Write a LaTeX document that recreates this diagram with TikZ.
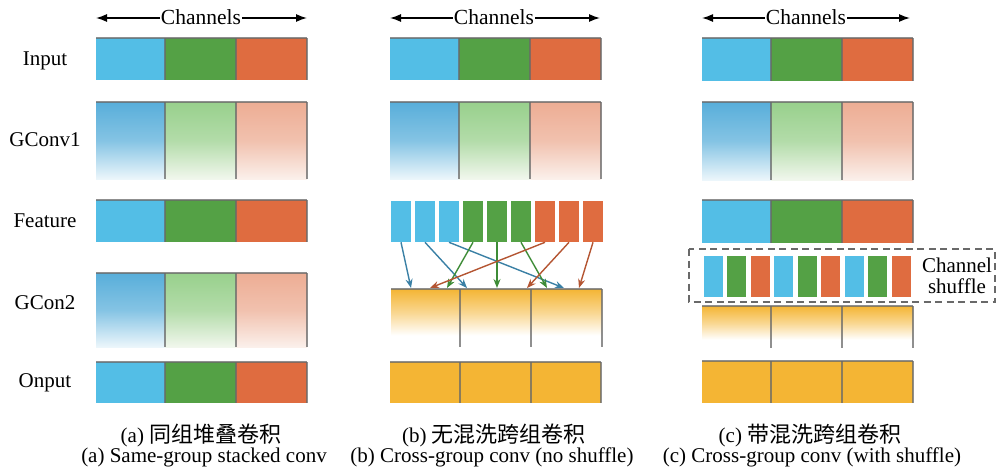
\documentclass[tikz,border=0pt]{standalone}
\usepackage{fontspec}
\setmainfont{Liberation Serif}
\newfontfamily\cjk{Noto Sans CJK SC}
\usetikzlibrary{arrows.meta}
\definecolor{cb}{RGB}{83,190,230}
\definecolor{cg}{RGB}{84,161,69}
\definecolor{co}{RGB}{223,108,64}
\definecolor{cy}{RGB}{244,181,52}
\definecolor{gb1}{RGB}{88,174,218}
\definecolor{gb2}{RGB}{236,246,251}
\definecolor{gg1}{RGB}{152,208,140}
\definecolor{gg2}{RGB}{241,247,237}
\definecolor{go1}{RGB}{237,173,148}
\definecolor{go2}{RGB}{251,240,235}
\definecolor{ab}{RGB}{58,128,165}
\definecolor{ag}{RGB}{62,140,55}
\definecolor{ao}{RGB}{180,85,50}
\definecolor{edgec}{RGB}{105,105,105}
\tikzset{
  edgeline/.style={draw=edgec,draw opacity=.75,line width=1.6pt},
  rowlabel/.style={font=\fontsize{21}{24}\selectfont,inner sep=0pt},
  chtext/.style={font=\fontsize{21.5}{24}\selectfont,inner sep=1pt},
  chline/.style={line width=1.4pt,-{Latex[length=11pt,width=8pt]}},
  captext/.style={font=\fontsize{21}{24}\selectfont,inner sep=0pt},
  fbar/.style={minimum width=21pt,minimum height=42pt,inner sep=0pt,draw=white,line width=.6pt},
  sbar/.style={minimum width=20pt,minimum height=42pt,inner sep=0pt,draw=white,line width=.6pt},
  conn/.style={line width=1.4pt,-{Stealth[length=9pt,width=7pt]}},
}
\newcommand{\flatrow}[7]{% x0 x1 x2 x3 y0 y1 style: 1=colours 2=yellow
  \ifnum#7=1
    \fill[cb] (#1,#5) rectangle (#2,#6);
    \fill[cg] (#2,#5) rectangle (#3,#6);
    \fill[co] (#3,#5) rectangle (#4,#6);
  \else
    \fill[cy] (#1,#5) rectangle (#4,#6);
  \fi
  \draw[edgeline] (#1,#5) -- (#4,#5);
  \draw[edgeline] (#2,#5) -- (#2,#6) (#3,#5) -- (#3,#6) (#4,#5) -- (#4,#6);
}
\newcommand{\graderow}[6]{% x0 x1 x2 x3 y0 y1
  \shade[top color=gb1,bottom color=gb2,middle color=gb1!70!gb2] (#1,#5) rectangle (#2,#6);
  \shade[top color=gg1,bottom color=gg2,middle color=gg1!70!gg2] (#2,#5) rectangle (#3,#6);
  \shade[top color=go1,bottom color=go2,middle color=go1!70!go2] (#3,#5) rectangle (#4,#6);
  \draw[edgeline] (#1,#5) -- (#4,#5);
  \draw[edgeline] (#2,#5) -- (#2,#6) (#3,#5) -- (#3,#6) (#4,#5) -- (#4,#6);
}
\newcommand{\yelrow}[6]{% x0 x1 x2 x3 y0 y1
  \shade[top color=cy,bottom color=white,middle color=cy!55!white] (#1,#5) rectangle (#4,{#5+0.8*(#6-#5)});
  \draw[edgeline] (#1,#5) -- (#4,#5);
  \draw[edgeline] (#2,#5) -- (#2,#6) (#3,#5) -- (#3,#6) (#4,#5) -- (#4,#6);
}
\begin{document}
\begin{tikzpicture}[x=1pt,y=-1pt]
\useasboundingbox (0,0) rectangle (997,469);

% row labels
\node[rowlabel] (lin) at (45,61) {Input};
\node[rowlabel] (lg1) at (45,140) {GConv1};
\node[rowlabel] (lft) at (45,221) {Feature};
\node[rowlabel] (lg2) at (45,303) {GCon2};
\node[rowlabel] (lout) at (45,383) {Onput};

% Channels headers
\node[chtext] (cha) at (201,17) {Channels};
\node[chtext] (chb) at (494,17) {Channels};
\node[chtext] (chc) at (806,17) {Channels};
\coordinate (cal) at (96,18); \coordinate (car) at (307,18);
\coordinate (cbl) at (390,18); \coordinate (cbr) at (600,18);
\coordinate (ccl) at (702,18); \coordinate (ccr) at (910,18);
\draw[chline] (cha.west |- cal) -- (cal);
\draw[chline] (cha.east |- car) -- (car);
\draw[chline] (chb.west |- cbl) -- (cbl);
\draw[chline] (chb.east |- cbr) -- (cbr);
\draw[chline] (chc.west |- ccl) -- (ccl);
\draw[chline] (chc.east |- ccr) -- (ccr);

% column (a)
\flatrow{96}{165}{236}{307}{38}{80}{1}
\graderow{96}{165}{236}{307}{102}{179}
\flatrow{96}{165}{236}{307}{200}{242}{1}
\graderow{96}{165}{236}{307}{273}{347}
\flatrow{96}{165}{236}{307}{362}{403}{1}

% column (b)
\flatrow{390}{459}{530}{601}{38}{80}{1}
\graderow{390}{459}{530}{601}{102}{179}
\yelrow{391}{460}{531}{602}{289}{347}
\flatrow{390}{460}{531}{601}{362}{403}{2}

% feature bars (b)
\foreach \i/\c in {1/cb,2/cb,3/cb,4/cg,5/cg,6/cg,7/co,8/co,9/co}{
  \node[fbar,fill=\c] (f\i) at ({377+24*\i},221) {};
}
\coordinate (t1) at (411,288);
\coordinate (t2) at (467,288);
\coordinate (t3) at (564,288);
\coordinate (t4) at (447,288);
\coordinate (t5) at (497,288);
\coordinate (t6) at (547,288);
\coordinate (t7) at (430,288);
\coordinate (t8) at (527,288);
\coordinate (t9) at (579,288);
\draw[conn,ab] (f1.south) -- (t1);
\draw[conn,ab] (f2.south) -- (t2);
\draw[conn,ab] (f3.south) -- (t3);
\draw[conn,ag] (f4.south) -- (t4);
\draw[conn,ag] (f5.south) -- (t5);
\draw[conn,ag] (f6.south) -- (t6);
\draw[conn,ao] (f7.south) -- (t7);
\draw[conn,ao] (f8.south) -- (t8);
\draw[conn,ao] (f9.south) -- (t9);

% column (c)
\flatrow{702}{771}{842}{913}{38}{81}{1}
\graderow{702}{771}{842}{913}{102}{180}
\flatrow{702}{771}{842}{913}{200}{243}{1}
\yelrow{702}{771}{842}{913}{306}{348}
\flatrow{702}{771}{842}{913}{361}{403}{2}

% channel shuffle
\draw[draw=edgec,line width=1.4pt,dash pattern=on 7pt off 4.5pt] (689,249) rectangle (995,302);
\foreach \i/\c in {0/cb,1/cg,2/co,3/cb,4/cg,5/co,6/cb,7/cg,8/co}{
  \node[sbar,fill=\c] (s\i) at ({713+23.5*\i},276) {};
}
\node[rowlabel,align=center] (shl) at (957,276) {Channel\\[-3pt]shuffle};

% captions
\node[captext] (ca1) at (201,435) {(a) {\cjk\fontsize{22}{24}\selectfont 同组堆叠卷积}};
\node[captext] (cb1) at (494,435) {(b) {\cjk\fontsize{22}{24}\selectfont 无混洗跨组卷积}};
\node[captext] (cc1) at (810,435) {(c) {\cjk\fontsize{22}{24}\selectfont 带混洗跨组卷积}};
\node[captext] (ca2) at (204,457) {(a) Same-group stacked conv};
\node[captext] (cb2) at (492,457) {(b) Cross-group conv (no shuffle)};
\node[captext] (cc2) at (812,457) {(c) Cross-group conv (with shuffle)};
\end{tikzpicture}
\end{document}
